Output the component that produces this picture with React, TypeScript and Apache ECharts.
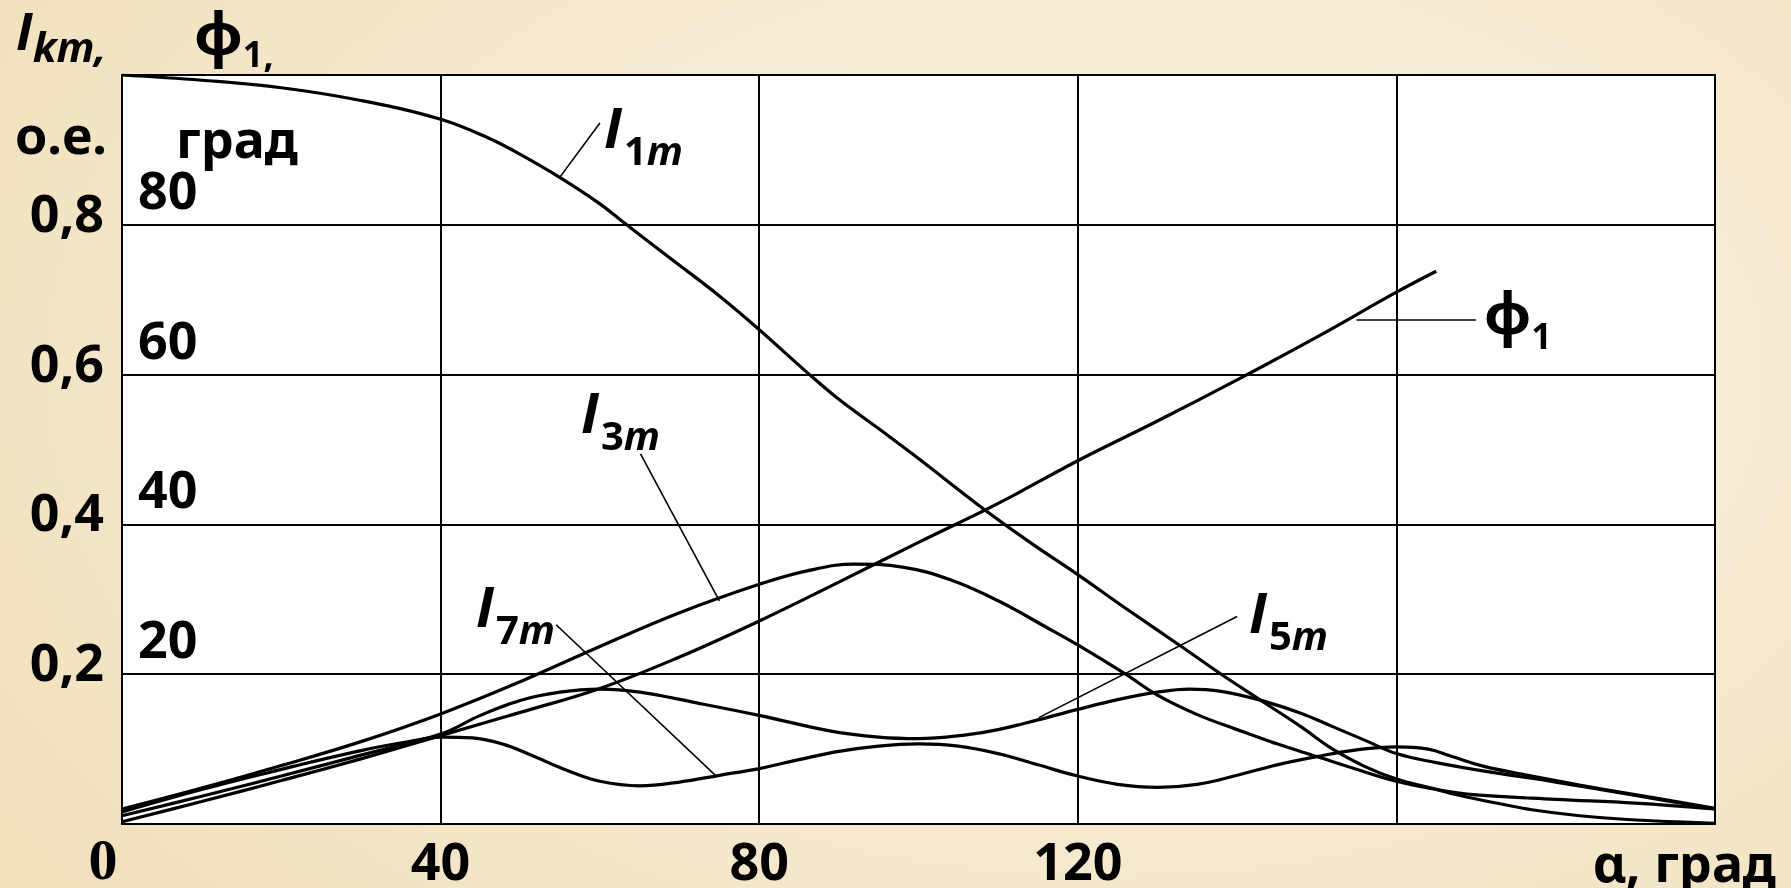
import React, { useEffect, useRef } from "react";
import * as echarts from "echarts";

// Firing angle α, degrees, and harmonic amplitudes I_km in per-unit
const i1mAlpha = [0, 10, 20, 30, 40, 46, 50, 55, 60, 63, 69, 75, 80, 86, 90, 96, 100, 108, 114, 120, 126, 133, 138, 143, 148, 152, 156, 160, 164, 168, 173, 177, 183, 189, 200];
const i1mValue = [1.0, 0.993, 0.983, 0.966, 0.941, 0.916, 0.894, 0.863, 0.828, 0.803, 0.754, 0.705, 0.66, 0.603, 0.567, 0.52, 0.488, 0.422, 0.376, 0.333, 0.288, 0.237, 0.2, 0.165, 0.13, 0.1, 0.077, 0.06, 0.049, 0.038, 0.027, 0.019, 0.011, 0.006, 0.001];

const i3mAlpha = [0, 10, 20, 30, 40, 50, 60, 70, 80, 86, 92, 98, 104, 110, 116, 120, 126, 130, 135, 140, 145, 150, 155, 160, 165, 170, 180, 190, 200];
const i3mValue = [0.02, 0.048, 0.078, 0.11, 0.147, 0.19, 0.237, 0.282, 0.32, 0.338, 0.347, 0.343, 0.326, 0.298, 0.263, 0.239, 0.2, 0.172, 0.146, 0.126, 0.107, 0.09, 0.073, 0.057, 0.046, 0.039, 0.033, 0.028, 0.02];

const i5mAlpha = [0, 10, 20, 30, 40, 45, 50, 55, 60, 65, 72, 80, 89, 95, 100, 106, 110, 115, 120, 125, 130, 134, 138, 143, 148, 152, 156, 160, 165, 172, 180, 190, 200];
const i5mValue = [0.011, 0.037, 0.064, 0.092, 0.12, 0.145, 0.165, 0.176, 0.18, 0.176, 0.162, 0.145, 0.124, 0.116, 0.114, 0.119, 0.126, 0.139, 0.153, 0.166, 0.176, 0.18, 0.177, 0.165, 0.148, 0.13, 0.112, 0.094, 0.082, 0.069, 0.056, 0.038, 0.02];

const i7mAlpha = [0, 10, 20, 30, 36, 40, 44, 48, 52, 56, 60, 65, 70, 75, 80, 85, 90, 95, 100, 105, 110, 115, 120, 125, 130, 135, 140, 145, 150, 155, 160, 164, 167, 171, 177, 183, 189, 200];
const i7mValue = [0.016, 0.046, 0.073, 0.098, 0.11, 0.116, 0.115, 0.106, 0.089, 0.071, 0.057, 0.051, 0.056, 0.065, 0.074, 0.086, 0.097, 0.104, 0.107, 0.104, 0.094, 0.079, 0.064, 0.053, 0.049, 0.053, 0.065, 0.079, 0.09, 0.099, 0.103, 0.1, 0.09, 0.077, 0.064, 0.052, 0.041, 0.021];

// Phase angle of the fundamental φ1, degrees
const phi1Alpha = [0, 10, 20, 30, 40, 50, 60, 70, 80, 90, 100, 110, 120, 130, 140, 150, 160, 165];
const phi1Deg = [0.3, 3.0, 5.8, 8.7, 11.8, 14.9, 18.1, 22.3, 27.1, 32.3, 37.6, 42.8, 48.5, 53.8, 59.3, 65, 71, 73.8];

// Tick labels
const alphaTickLabels: Record<number, string> = { 0: "0", 40: "40", 80: "80", 120: "120" };
const currentTickLabels: Record<string, string> = { "0.2": "0,2", "0.4": "0,4", "0.6": "0,6", "0.8": "0,8" };
const phiTickLabels: Record<number, string> = { 20: "20", 40: "40", 60: "60", 80: "80" };

const FONT = '"Noto Sans", "Open Sans", sans-serif';
const ITALIC_FONT = '"Open Sans", "Noto Sans", sans-serif';
const INK = "#000";

const pairs = (xs: number[], ys: number[]) => xs.map((x, i) => [x, ys[i]]);

const leader = (a: number[], b: number[]) => ({
  silent: true,
  symbol: ["none", "none"],
  label: { show: false },
  emphasis: { disabled: true },
  lineStyle: { color: INK, width: 1.6, type: "solid" },
  data: [[{ coord: a }, { coord: b }]],
});

// Rich styles for curve labels: italic I with upright digit and italic m as subscript
const curveRich = {
  I: { fontFamily: ITALIC_FONT, fontStyle: "italic", fontWeight: "bold", fontSize: 56, lineHeight: 56, verticalAlign: "top", fill: INK },
  d: { fontFamily: FONT, fontWeight: "bold", fontSize: 40, lineHeight: 40, padding: [31, 0, 0, 2], verticalAlign: "top", fill: INK },
  m: { fontFamily: ITALIC_FONT, fontStyle: "italic", fontWeight: "bold", fontSize: 40, lineHeight: 40, padding: [31, 0, 0, 0], verticalAlign: "top", fill: INK },
};

const curveLabel = (x: number, y: number, digit: string) => ({
  type: "text",
  x,
  y,
  silent: true,
  style: { text: `{I|I}{d|${digit}}{m|m}`, rich: curveRich, verticalAlign: "top", align: "left" },
});

const plainText = (x: number, y: number, text: string, align = "left") => ({
  type: "text",
  x,
  y,
  silent: true,
  style: {
    text: `{t|${text}}`,
    align,
    verticalAlign: "top",
    rich: { t: { fontFamily: FONT, fontWeight: "bold", fontSize: 52, lineHeight: 52, verticalAlign: "top", fill: INK } },
  },
});

export default function App() {
  const ref = useRef<HTMLDivElement>(null);

  useEffect(() => {
    if (!ref.current) return;
    const chart = echarts.init(ref.current, null, { renderer: "svg" });

    const lineSeries = (name: string, data: number[][], yAxisIndex = 0, markLine?: any) => ({
      name,
      type: "line",
      yAxisIndex,
      data,
      smooth: 0.4,
      showSymbol: false,
      symbol: "none",
      silent: true,
      z: 5,
      lineStyle: { color: INK, width: 3.2 },
      ...(markLine ? { markLine } : {}),
    });

    chart.setOption({
      animation: false,
      backgroundColor: "transparent",
      grid: {
        left: 122,
        top: 75,
        width: 1593,
        height: 753,
        show: true,
        backgroundColor: "#ffffff",
        borderColor: INK,
        borderWidth: 2,
      },
      xAxis: {
        type: "value",
        min: 0,
        max: 200,
        interval: 40,
        axisLine: { show: false },
        axisTick: { show: false },
        splitLine: { show: true, lineStyle: { color: INK, width: 2 } },
        axisLabel: {
          margin: 9,
          color: INK,
          fontFamily: FONT,
          fontWeight: "bold",
          fontSize: 52,
          lineHeight: 52,
          formatter: (v: number) => {
            if (v === 0) return "{z|0}";
            return alphaTickLabels[v] ?? "";
          },
          rich: {
            z: {
              fontFamily: '"Liberation Serif", "DejaVu Serif", serif',
              fontWeight: "bold",
              fontSize: 58,
              lineHeight: 52,
              padding: [0, 38, 0, 0],
              color: INK,
            },
          },
        },
      },
      yAxis: [
        {
          type: "value",
          min: 0,
          max: 1,
          interval: 0.2,
          position: "left",
          axisLine: { show: false },
          axisTick: { show: false },
          splitLine: { show: true, lineStyle: { color: INK, width: 2 } },
          axisLabel: {
            margin: 18,
            color: INK,
            fontFamily: FONT,
            fontWeight: "bold",
            fontSize: 52,
            lineHeight: 27,
            verticalAlign: "bottom",
            formatter: (v: number) => currentTickLabels[v.toFixed(1)] ?? "",
          },
        },
        {
          type: "value",
          min: 0,
          max: 100,
          interval: 20,
          position: "left",
          axisLine: { show: false },
          axisTick: { show: false },
          splitLine: { show: false },
          axisLabel: {
            inside: true,
            margin: 16,
            align: "left",
            color: INK,
            fontFamily: FONT,
            fontWeight: "bold",
            fontSize: 52,
            lineHeight: 73,
            verticalAlign: "bottom",
            formatter: (v: number) => phiTickLabels[Math.round(v)] ?? "",
          },
        },
      ],
      series: [
        lineSeries("I1m", pairs(i1mAlpha, i1mValue), 0, leader([55, 0.864], [60, 0.936])),
        lineSeries("I3m", pairs(i3mAlpha, i3mValue), 0, leader([75, 0.298], [65.1, 0.494])),
        lineSeries("I5m", pairs(i5mAlpha, i5mValue), 0, leader([115.1, 0.142], [140, 0.277])),
        lineSeries("I7m", pairs(i7mAlpha, i7mValue), 0, leader([74.5, 0.065], [54.5, 0.266])),
        lineSeries("φ1", pairs(phi1Alpha, phi1Deg), 1, leader([155, 67.3], [170, 67.3])),
      ],
      graphic: [
        // axis titles
        {
          type: "text",
          x: 16,
          y: 3,
          silent: true,
          style: {
            text: "{I|I}{s|km,}",
            verticalAlign: "top",
            rich: {
              I: { fontFamily: ITALIC_FONT, fontStyle: "italic", fontWeight: "bold", fontSize: 52, lineHeight: 52, verticalAlign: "top", fill: INK },
              s: { fontFamily: ITALIC_FONT, fontStyle: "italic", fontWeight: "bold", fontSize: 42, lineHeight: 42, padding: [21, 0, 0, 0], verticalAlign: "top", fill: INK },
            },
          },
        },
        plainText(15, 107, "о.е."),
        {
          type: "text",
          x: 194,
          y: 2,
          silent: true,
          style: {
            text: "{p|φ}{s|1,}",
            verticalAlign: "top",
            rich: {
              p: { fontFamily: FONT, fontWeight: "bold", fontSize: 60, lineHeight: 60, verticalAlign: "top", fill: INK },
              s: { fontFamily: FONT, fontWeight: "bold", fontSize: 36, lineHeight: 36, padding: [33, 0, 0, 0], verticalAlign: "top", fill: INK },
            },
          },
        },
        plainText(176, 111, "град"),
        plainText(1776, 835, "α, град", "right"),
        // curve labels
        curveLabel(604, 98, "1"),
        curveLabel(581, 383, "3"),
        curveLabel(476, 577, "7"),
        curveLabel(1249, 583, "5"),
        {
          type: "text",
          x: 1484,
          y: 282,
          silent: true,
          style: {
            text: "{p|φ}{s|1}",
            verticalAlign: "top",
            rich: {
              p: { fontFamily: FONT, fontWeight: "bold", fontSize: 58, lineHeight: 58, verticalAlign: "top", fill: INK },
              s: { fontFamily: FONT, fontWeight: "bold", fontSize: 36, lineHeight: 36, padding: [35, 0, 0, 0], verticalAlign: "top", fill: INK },
            },
          },
        },
      ],
    });

    return () => chart.dispose();
  }, []);

  return (
    <div
      style={{
        position: "fixed",
        left: 0,
        top: 0,
        width: 1791,
        height: 888,
        background:
          "radial-gradient(ellipse 75% 95% at 62% 42%, #f8f1df 0%, #f6ecd4 45%, #f3e5c6 75%, #f1e0ba 100%)",
      }}
    >
      <div ref={ref} style={{ width: 1791, height: 888 }} />
    </div>
  );
}
